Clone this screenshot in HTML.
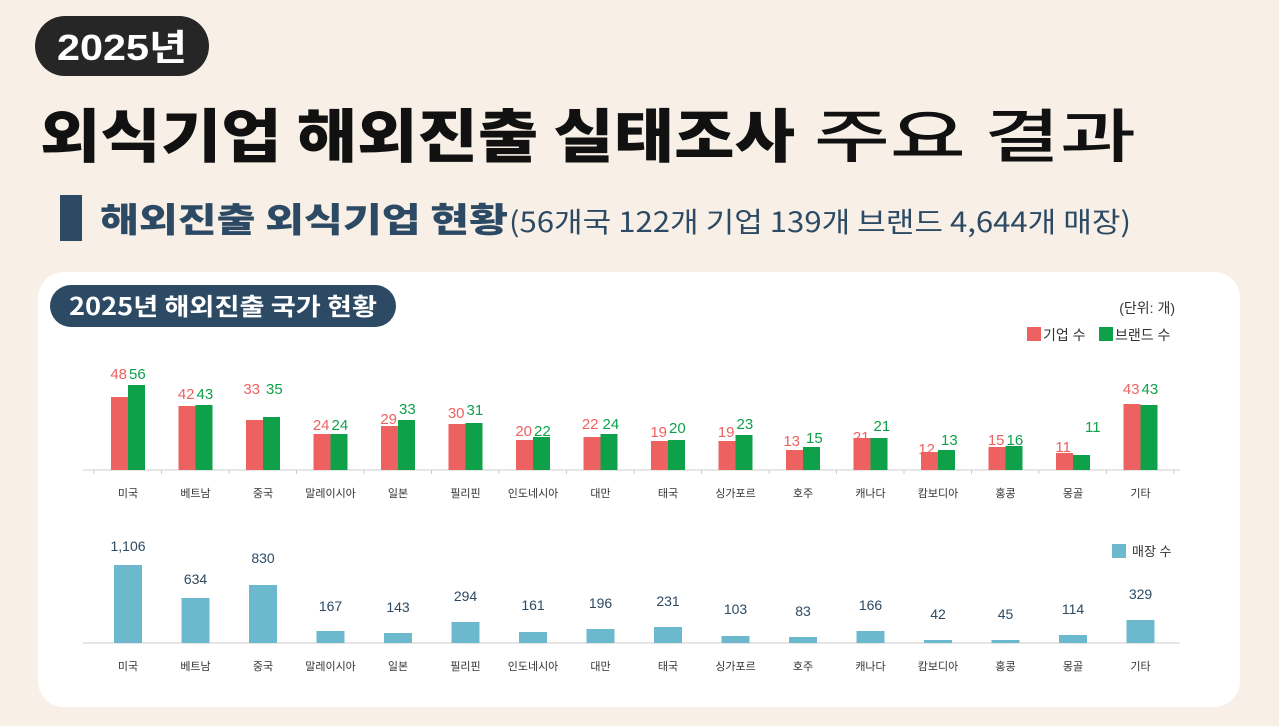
<!DOCTYPE html>
<html><head><meta charset="utf-8"><style>
html,body{margin:0;padding:0;background:#f8f0e7;}
svg{display:block;font-family:"Liberation Sans","Noto Sans CJK KR",sans-serif;}
.r{fill:#ee6161}.g{fill:#0fa14a}.s{fill:#6cb8cc}
.lr{fill:#ee6161;font-size:15px;text-anchor:end}
.lg{fill:#0fa14a;font-size:15px}
.ls{fill:#2c4a63;font-size:14px;text-anchor:middle}
.n{fill:#333;font-size:11px;text-anchor:middle}
</style></head><body>
<svg width="1279" height="726" viewBox="0 0 1279 726" xmlns="http://www.w3.org/2000/svg">
<rect width="1279" height="726" fill="#f8f0e7"/>
<rect x="35" y="16" width="174" height="60" rx="30" fill="#262626"/>
<text x="122" y="60" fill="#fff" font-size="36" font-weight="bold" text-anchor="middle" textLength="130" lengthAdjust="spacingAndGlyphs">2025년</text>
<text x="40" y="157" fill="#111" font-size="58" font-weight="900" textLength="755" lengthAdjust="spacingAndGlyphs" font-family="Noto Sans CJK KR, sans-serif">외식기업 해외진출 실태조사</text>
<text x="814" y="157" fill="#111" font-size="58" font-weight="500" textLength="322" lengthAdjust="spacingAndGlyphs" font-family="Noto Sans CJK KR, sans-serif">주요 결과</text>
<rect x="60" y="195" width="22" height="46" fill="#2c4a63"/>
<text x="100" y="232" fill="#2c4a63" font-size="34" font-weight="900" textLength="408" lengthAdjust="spacingAndGlyphs" font-family="Noto Sans CJK KR, sans-serif">해외진출 외식기업 현황</text>
<text x="509" y="232" fill="#2c4a63" font-size="28" textLength="622" lengthAdjust="spacingAndGlyphs" font-family="Noto Sans CJK KR, sans-serif">(56개국 122개 기업 139개 브랜드 4,644개 매장)</text>
<rect x="38" y="272" width="1202" height="435" rx="26" fill="#fff"/>
<rect x="50" y="285" width="346" height="42" rx="21" fill="#2c4a63"/>
<text x="223" y="315" fill="#fff" font-size="24" font-weight="bold" text-anchor="middle" textLength="308" lengthAdjust="spacingAndGlyphs" font-family="Noto Sans CJK KR, sans-serif">2025년 해외진출 국가 현황</text>
<text x="1175" y="313" fill="#333" font-size="14" text-anchor="end">(단위: 개)</text>
<rect x="1027" y="327" width="14" height="14" fill="#ee6161"/>
<text x="1043" y="340" fill="#333" font-size="14">기업 수</text>
<rect x="1099" y="327" width="14" height="14" fill="#0fa14a"/>
<text x="1115" y="340" fill="#333" font-size="14">브랜드 수</text>
<rect x="1112" y="544" width="14" height="14" fill="#6cb8cc"/>
<text x="1132" y="556" fill="#333" font-size="13">매장 수</text>
<line x1="83" y1="470" x2="1180" y2="470" stroke="#ccc"/>
<line x1="83" y1="643" x2="1180" y2="643" stroke="#ccc"/>

<g transform="translate(128,0)"><rect class="r" x="-17" y="397" width="17" height="73"/><rect class="g" x="0" y="385" width="17" height="85"/><text class="lr" x="-1" y="379">48</text><text class="lg" x="1" y="379">56</text><text class="n" y="497">미국</text>
<rect class="s" x="-14" y="565" width="28" height="78"/><text class="ls" y="551">1,106</text><text class="n" y="670">미국</text></g>

<g transform="translate(195.5,0)"><rect class="r" x="-17" y="406" width="17" height="64"/><rect class="g" x="0" y="405" width="17" height="65"/><text class="lr" x="-1" y="399">42</text><text class="lg" x="1" y="399">43</text><text class="n" y="497">베트남</text>
<rect class="s" x="-14" y="598" width="28" height="45"/><text class="ls" y="584">634</text><text class="n" y="670">베트남</text></g>

<g transform="translate(263,0)"><rect class="r" x="-17" y="420" width="17" height="50"/><rect class="g" x="0" y="417" width="17" height="53"/><text class="lr" x="-3" y="394">33</text><text class="lg" x="3" y="394">35</text><text class="n" y="497">중국</text>
<rect class="s" x="-14" y="585" width="28" height="58"/><text class="ls" y="563">830</text><text class="n" y="670">중국</text></g>

<g transform="translate(330.5,0)"><rect class="r" x="-17" y="434" width="17" height="36"/><rect class="g" x="0" y="434" width="17" height="36"/><text class="lr" x="-1" y="430">24</text><text class="lg" x="1" y="430">24</text><text class="n" y="497">말레이시아</text>
<rect class="s" x="-14" y="631" width="28" height="12"/><text class="ls" y="611">167</text><text class="n" y="670">말레이시아</text></g>

<g transform="translate(398,0)"><rect class="r" x="-17" y="426" width="17" height="44"/><rect class="g" x="0" y="420" width="17" height="50"/><text class="lr" x="-1" y="424">29</text><text class="lg" x="1" y="414">33</text><text class="n" y="497">일본</text>
<rect class="s" x="-14" y="633" width="28" height="10"/><text class="ls" y="612">143</text><text class="n" y="670">일본</text></g>

<g transform="translate(465.5,0)"><rect class="r" x="-17" y="424" width="17" height="46"/><rect class="g" x="0" y="423" width="17" height="47"/><text class="lr" x="-1" y="418">30</text><text class="lg" x="1" y="415">31</text><text class="n" y="497">필리핀</text>
<rect class="s" x="-14" y="622" width="28" height="21"/><text class="ls" y="601">294</text><text class="n" y="670">필리핀</text></g>

<g transform="translate(533,0)"><rect class="r" x="-17" y="440" width="17" height="30"/><rect class="g" x="0" y="437" width="17" height="33"/><text class="lr" x="-1" y="436">20</text><text class="lg" x="1" y="436">22</text><text class="n" y="497">인도네시아</text>
<rect class="s" x="-14" y="632" width="28" height="11"/><text class="ls" y="610">161</text><text class="n" y="670">인도네시아</text></g>

<g transform="translate(600.5,0)"><rect class="r" x="-17" y="437" width="17" height="33"/><rect class="g" x="0" y="434" width="17" height="36"/><text class="lr" x="-2" y="429">22</text><text class="lg" x="2" y="429">24</text><text class="n" y="497">대만</text>
<rect class="s" x="-14" y="629" width="28" height="14"/><text class="ls" y="608">196</text><text class="n" y="670">대만</text></g>

<g transform="translate(668,0)"><rect class="r" x="-17" y="441" width="17" height="29"/><rect class="g" x="0" y="440" width="17" height="30"/><text class="lr" x="-1" y="437">19</text><text class="lg" x="1" y="433">20</text><text class="n" y="497">태국</text>
<rect class="s" x="-14" y="627" width="28" height="16"/><text class="ls" y="606">231</text><text class="n" y="670">태국</text></g>

<g transform="translate(735.5,0)"><rect class="r" x="-17" y="441" width="17" height="29"/><rect class="g" x="0" y="435" width="17" height="35"/><text class="lr" x="-1" y="437">19</text><text class="lg" x="1" y="429">23</text><text class="n" y="497">싱가포르</text>
<rect class="s" x="-14" y="636" width="28" height="7"/><text class="ls" y="614">103</text><text class="n" y="670">싱가포르</text></g>

<g transform="translate(803,0)"><rect class="r" x="-17" y="450" width="17" height="20"/><rect class="g" x="0" y="447" width="17" height="23"/><text class="lr" x="-3" y="446">13</text><text class="lg" x="3" y="443">15</text><text class="n" y="497">호주</text>
<rect class="s" x="-14" y="637" width="28" height="6"/><text class="ls" y="616">83</text><text class="n" y="670">호주</text></g>

<g transform="translate(870.5,0)"><rect class="r" x="-17" y="438" width="17" height="32"/><rect class="g" x="0" y="438" width="17" height="32"/><text class="lr" x="-1" y="442">21</text><text class="lg" x="3" y="431">21</text><text class="n" y="497">캐나다</text>
<rect class="s" x="-14" y="631" width="28" height="12"/><text class="ls" y="610">166</text><text class="n" y="670">캐나다</text></g>

<g transform="translate(938,0)"><rect class="r" x="-17" y="452" width="17" height="18"/><rect class="g" x="0" y="450" width="17" height="20"/><text class="lr" x="-3" y="454">12</text><text class="lg" x="3" y="445">13</text><text class="n" y="497">캄보디아</text>
<rect class="s" x="-14" y="640" width="28" height="3"/><text class="ls" y="619">42</text><text class="n" y="670">캄보디아</text></g>

<g transform="translate(1005.5,0)"><rect class="r" x="-17" y="447" width="17" height="23"/><rect class="g" x="0" y="446" width="17" height="24"/><text class="lr" x="-1" y="445">15</text><text class="lg" x="1" y="445">16</text><text class="n" y="497">홍콩</text>
<rect class="s" x="-14" y="640" width="28" height="3"/><text class="ls" y="619">45</text><text class="n" y="670">홍콩</text></g>

<g transform="translate(1073,0)"><rect class="r" x="-17" y="453" width="17" height="17"/><rect class="g" x="0" y="455" width="17" height="15"/><text class="lr" x="-2" y="452">11</text><text class="lg" x="12" y="432">11</text><text class="n" y="497">몽골</text>
<rect class="s" x="-14" y="635" width="28" height="8"/><text class="ls" y="614">114</text><text class="n" y="670">몽골</text></g>

<g transform="translate(1140.5,0)"><rect class="r" x="-17" y="404" width="17" height="66"/><rect class="g" x="0" y="405" width="17" height="65"/><text class="lr" x="-1" y="394">43</text><text class="lg" x="1" y="394">43</text><text class="n" y="497">기타</text>
<rect class="s" x="-14" y="620" width="28" height="23"/><text class="ls" y="599">329</text><text class="n" y="670">기타</text></g>

<g stroke="#ccc">
<line x1="94" y1="470" x2="94" y2="474"/><line x1="161.5" y1="470" x2="161.5" y2="474"/><line x1="229" y1="470" x2="229" y2="474"/><line x1="296.5" y1="470" x2="296.5" y2="474"/><line x1="364" y1="470" x2="364" y2="474"/><line x1="431.5" y1="470" x2="431.5" y2="474"/><line x1="499" y1="470" x2="499" y2="474"/><line x1="566.5" y1="470" x2="566.5" y2="474"/><line x1="634" y1="470" x2="634" y2="474"/><line x1="701.5" y1="470" x2="701.5" y2="474"/><line x1="769" y1="470" x2="769" y2="474"/><line x1="836.5" y1="470" x2="836.5" y2="474"/><line x1="904" y1="470" x2="904" y2="474"/><line x1="971.5" y1="470" x2="971.5" y2="474"/><line x1="1039" y1="470" x2="1039" y2="474"/><line x1="1106.5" y1="470" x2="1106.5" y2="474"/><line x1="1174" y1="470" x2="1174" y2="474"/>
</g>
</svg>
</body></html>
